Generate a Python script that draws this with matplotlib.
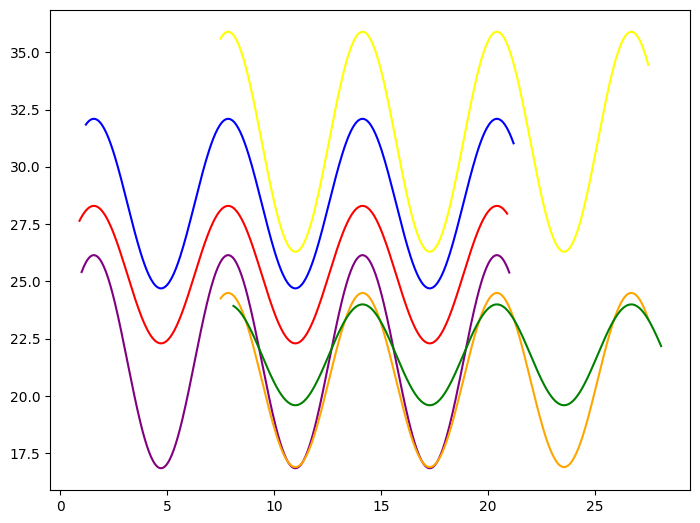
import numpy as np
import matplotlib
matplotlib.use("Agg")
import matplotlib.pyplot as plt

colors = ["yellow", "blue", "red", "purple", "orange", "green"]
x_start = [7.5, 1.2, 0.9, 1.0, 7.5, 8.1]
x_end = [27.5, 21.2, 20.9, 21.0, 27.5, 28.1]
centers = [31.1, 28.4, 25.3, 21.5, 20.7, 21.8]
amplitudes = [4.8, 3.7, 3.0, 4.65, 3.8, 2.2]

fig, ax = plt.subplots(figsize=(7, 5.23), dpi=100)
fig.subplots_adjust(left=0.072, right=0.986, top=0.981, bottom=0.063)
for c, a, b, m, amp in zip(colors, x_start, x_end, centers, amplitudes):
    x = np.linspace(a, b, 400)
    ax.plot(x, m + amp * np.sin(x), color=c)
fig.savefig("out.png")
